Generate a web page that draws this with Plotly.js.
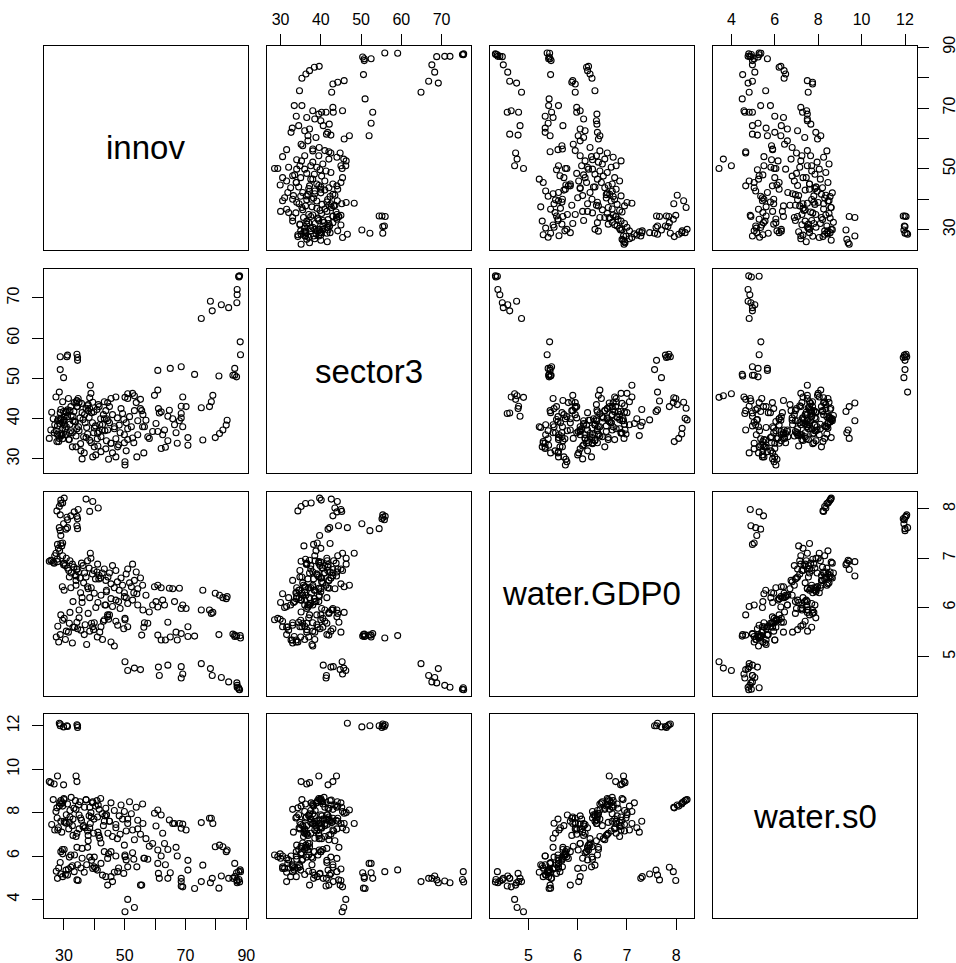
<!DOCTYPE html>
<html><head><meta charset="utf-8">
<script src="https://cdn.plot.ly/plotly-3.0.1.min.js"></script>
<style>html,body{margin:0;padding:0;background:#fff}#chart{width:956px;height:963px}</style>
</head><body><div id="chart"></div>
<script>
// ---- data (one observation per index) ----
const varNames = ['innov', 'sector3', 'water.GDP0', 'water.s0'];

const innov = [
  75.2,78.2,78.8,81.8,84.2,86.9,87.0,87.0,87.5,87.6,87.8,
  50.1,51.0,53.2,55.2,61.1,61.4,64.2,68.6,68.6,69.1,
  81.0,85.6,86.2,86.8,86.2,88.1,88.0,
  60.9,65.0,68.6,73.0,
  28.5,29.9,28.8,28.8,31.0,31.2,34.3,34.5,34.5,
  27.7,28.5,29.0,29.6,30.1,29.0,37.3,39.5,41.3,38.5,
  27.9,29.6,29.0,30.7,31.2,34.3,32.3,33.4,34.7,
  25.2,25.7,26.8,27.9,29.9,34.0,34.3,
  26.0,26.5,27.0,27.4,27.8,28.2,28.6,29.0,29.3,29.6,30.0,30.4,30.8,31.2,31.6,32.0,32.4,32.8,33.3,33.8,
  34.3,34.8,35.3,35.8,36.3,36.8,37.3,37.8,38.3,38.7,38.9,39.4,39.9,40.4,40.9,41.1,41.6,42.1,42.6,43.3,
  43.8,44.5,45.0,45.5,46.0,46.6,47.1,47.6,48.2,48.8,49.3,49.9,50.5,51.0,51.6,52.2,52.6,53.2,53.8,54.3,55.2,55.9,36.5,39.0,41.5,34.0,31.8,44.0,
  29.5,30.1,32.3,34.0,35.5,37.8,38.5,40.0,41.2,42.2,43.5,45.5,47.1,48.5,49.9,51.0,52.6,54.3,57.0,56.0,33.0,36.0,44.0,38.0,
  59.8,60.9,62.0,64.7,65.8,66.4,68.0,69.1,68.6,60.3,59.2,60.9,63.1,62.5,70.2,58.1,56.5,57.6,62.0,63.4,67.3,70.8,70.8,66.9,56.3,64.2,
  29.6,30.1,31.8,34.5,35.6,39.1,40.0,42.7,42.2,39.5,44.4,47.7,49.7,51.0,55.6,27.5,28.3,28.8,30.5,31.5,32.8,33.5,36.7,37.5,38.5,41.0,43.3,45.5,46.6,44.4,34.3,29.0,
  75.2,77.9,78.5,79.0,75.7,79.8,81.2,82.3,83.4,83.7,
  40.5,43.8,46.0,48.0,50.5,53.0,54.0,36.0,
  44.7,47.1,50.1,50.1,
  30.8,33.0,35.0,37.0,39.8,41.8,28.0,43.0,45.0,32.0,35.0,38.0
];

const sector3 = [
  64.9,69.2,66.8,68.3,67.6,68.8,70.8,72.1,75.4,75.2,75.5,
  45.3,46.2,45.7,44.8,42.5,41.4,40.6,43.1,41.3,45.4,
  50.6,50.8,50.8,50.4,52.5,55.9,59.1,
  52.0,52.5,52.9,51.0,
  46.6,50.2,52.2,55.4,55.4,55.8,56.0,55.2,54.5,
  34.3,35.1,36.2,37.6,39.7,40.1,42.6,44.1,43.5,45.2,
  38.2,39.1,39.7,41.8,42.2,44.4,43.0,44.0,45.0,
  35.1,37.2,36.5,39.5,41.8,43.9,43.0,
  41.6,40.0,38.5,45.4,36.2,40.0,38.8,42.3,35.8,44.2,39.5,37.5,41.5,40.5,34.8,38.6,40.8,36.5,41.8,39.2,
  37.5,38.0,40.2,43.8,39.8,41.0,35.3,43.2,40.3,48.3,46.3,39.0,41.7,38.2,42.3,36.4,43.0,40.0,37.2,44.2,
  42.0,39.5,43.0,45.0,41.0,37.5,45.4,40.2,38.4,42.5,41.3,36.0,39.0,45.0,40.5,38.0,46.3,42.0,44.0,39.5,42.5,38.0,35.5,34.0,36.8,33.0,34.8,34.5,
  36.0,38.5,37.0,35.7,33.8,36.2,34.6,37.7,33.2,35.5,37.0,33.9,35.0,36.5,34.0,37.5,35.2,36.0,39.6,41.0,39.5,41.5,40.0,43.5,
  45.8,47.1,41.7,42.1,40.0,38.5,39.5,38.0,40.2,38.8,36.8,36.8,37.2,36.0,43.0,35.1,38.0,35.5,32.6,32.9,33.9,35.3,33.4,36.5,31.5,34.5,
  35.0,40.5,36.5,43.0,32.0,41.5,33.0,38.5,31.8,30.5,44.0,33.0,39.8,34.8,42.0,37.0,34.3,41.5,36.0,45.0,33.0,39.3,31.5,37.8,42.5,35.0,40.0,33.9,38.0,37.2,44.5,40.0,
  42.7,43.0,44.2,45.8,34.7,35.3,36.3,37.2,38.4,39.6,
  31.0,32.5,31.5,33.5,32.0,34.0,30.5,30.0,
  29.9,30.5,29.3,28.5,
  38.0,40.5,37.0,39.0,36.5,38.5,36.0,41.0,39.0,42.0,44.0,42.0
];

const waterGDP0 = [
  4.86,4.76,4.62,4.58,4.49,4.47,4.42,4.38,4.37,4.34,4.33,
  4.90,4.72,4.77,4.74,4.79,4.62,4.83,4.80,4.57,4.65,
  5.45,5.46,5.41,5.42,5.44,5.38,5.43,
  5.44,5.40,5.47,5.42,
  7.62,7.70,7.56,7.88,7.83,7.78,7.85,7.80,7.60,
  7.96,8.05,8.11,8.12,8.22,8.18,8.20,8.15,8.02,7.95,
  7.28,7.31,7.46,7.59,7.62,7.66,7.86,7.94,7.99,
  6.94,6.96,6.90,6.93,6.87,6.64,6.77,
  6.95,6.92,7.05,7.10,6.98,7.20,7.15,7.30,7.25,7.05,6.90,6.85,7.00,6.80,6.75,6.95,6.70,6.88,6.82,6.65,
  6.78,6.72,6.60,6.90,6.85,6.70,6.62,6.95,6.80,7.10,7.00,6.68,6.75,6.58,6.72,6.88,6.65,6.60,6.70,6.78,
  6.55,6.62,6.70,6.48,6.85,6.40,6.75,6.52,6.35,6.60,6.45,6.30,6.68,6.78,6.50,6.42,6.88,6.55,6.72,6.38,6.60,6.45,6.50,6.40,6.58,6.55,6.62,6.35,
  6.42,6.35,6.40,6.45,6.30,6.42,6.20,6.29,6.10,6.25,6.05,6.18,6.15,5.98,6.22,6.08,6.15,6.05,6.25,5.95,6.12,6.20,6.32,6.38,
  6.42,6.45,6.40,6.39,6.38,6.12,6.39,6.05,5.98,6.12,6.05,6.01,6.05,6.15,5.98,5.91,5.69,5.68,5.34,5.34,5.34,5.61,5.41,5.50,5.60,5.70,
  5.74,5.78,5.68,5.57,5.54,5.68,5.69,5.35,5.61,5.61,5.81,5.64,5.57,5.61,5.44,5.40,5.30,5.45,5.35,5.50,5.28,5.60,5.45,5.25,5.52,5.40,5.75,5.30,5.22,5.85,5.70,5.85,
  5.95,5.95,5.88,5.90,6.35,6.29,6.25,6.20,6.18,6.22,
  6.00,6.05,6.02,6.12,6.20,6.30,6.28,6.10,
  5.76,5.72,5.78,5.75,
  5.52,5.60,5.79,5.65,5.55,5.50,5.62,5.72,5.85,5.90,5.95,5.88
];

const waterS0 = [
  4.82,4.77,4.97,5.08,4.97,4.90,4.85,4.77,5.28,4.92,4.80,
  3.43,4.00,3.63,4.66,5.20,4.97,4.97,4.82,4.62,4.58,
  4.52,4.97,5.05,5.23,5.66,5.28,5.36,
  5.66,5.23,4.97,4.50,
  12.12,11.95,12.00,12.08,12.00,11.97,12.05,11.92,12.00,
  8.22,8.30,8.40,8.45,8.60,8.55,8.58,8.50,8.35,8.25,
  4.97,5.05,5.17,5.35,5.12,4.90,5.48,5.28,4.87,
  9.43,9.38,9.32,9.69,9.28,9.69,9.43,
  7.45,8.60,7.20,8.05,7.75,7.30,8.45,7.60,7.10,8.30,8.65,7.55,7.90,8.40,7.25,8.10,8.70,7.40,8.20,8.55,
  7.05,8.35,8.50,7.65,7.35,8.25,8.60,7.15,7.85,7.50,8.00,8.45,7.70,8.30,8.55,7.80,8.15,8.65,7.95,7.60,
  8.20,7.05,7.60,8.45,6.90,8.10,7.30,6.80,7.85,8.35,7.70,8.05,7.15,7.50,8.50,7.95,7.20,6.75,8.25,7.65,7.00,8.40,7.40,7.80,6.95,8.15,7.55,7.90,
  6.30,7.60,6.05,6.90,7.75,6.40,7.30,5.95,7.10,6.60,7.85,6.20,7.45,7.00,6.50,7.70,6.15,7.25,6.80,7.50,6.95,6.35,7.90,6.70,
  7.97,8.12,7.89,7.66,7.50,7.50,7.50,7.47,7.28,7.38,6.58,6.28,6.58,7.05,7.20,6.45,5.90,5.85,6.00,5.60,6.00,5.80,5.35,6.40,5.90,6.30,
  6.10,6.30,5.95,5.60,5.45,5.80,5.50,5.12,5.66,5.43,5.89,5.28,5.20,5.50,4.66,5.30,5.45,5.70,5.15,5.40,5.55,6.05,5.25,5.60,5.95,5.35,6.20,5.05,5.25,4.66,6.40,6.20,
  7.54,7.74,7.74,7.50,5.58,6.43,6.50,6.43,6.20,6.28,
  5.43,5.05,4.82,5.45,5.82,5.85,5.50,5.90,
  6.10,6.00,5.97,6.05,
  7.51,7.70,7.89,7.30,7.05,6.82,7.20,7.40,7.60,7.80,7.25,6.95
];

// tick marks and labels for each variable
const innovTicks = [30, 40, 50, 60, 70, 80, 90];
const innovTickText = ['30', '', '50', '', '70', '', '90'];
const sector3Ticks = [30, 40, 50, 60, 70];
const sector3TickText = ['30', '40', '50', '60', '70'];
const gdpTicks = [5, 6, 7, 8];
const gdpTickText = ['5', '6', '7', '8'];
const s0Ticks = [4, 6, 8, 10, 12];
const s0TickText = ['4', '6', '8', '10', '12'];

// ---- layout ----
const W = 956, H = 963, SIZE = 204;
const colLeft = [43.5, 266.5, 489.5, 712.5];
const rowTop = [46, 269, 491.7, 714.3];
const ranges = [[23.3, 90.4], [26.5, 77.2], [4.21, 8.35], [3.13, 12.53]];
const vars = [innov, sector3, waterGDP0, waterS0];
const tickSets = [
  [innovTicks, innovTickText], [sector3Ticks, sector3TickText],
  [gdpTicks, gdpTickText], [s0Ticks, s0TickText]
];
const FONT = 'Liberation Sans, Arial, Helvetica, sans-serif';

const n = Math.min(innov.length, sector3.length, waterGDP0.length, waterS0.length);

function baseAxis(domain, range) {
  return {
    domain: domain, range: range, autorange: false,
    showgrid: false, zeroline: false,
    showline: true, mirror: true, linecolor: '#000', linewidth: 1,
    ticks: '', showticklabels: false, fixedrange: true
  };
}
function addTicks(ax, v, side, angle, standoff) {
  Object.assign(ax, {
    ticks: 'outside', ticklen: 11, tickwidth: 1, tickcolor: '#000',
    tickmode: 'array', tickvals: tickSets[v][0], ticktext: tickSets[v][1],
    showticklabels: true, side: side, tickangle: angle,
    ticklabelstandoff: standoff,
    tickfont: {family: FONT, size: 16, color: '#000'}
  });
}

const layout = {
  width: W, height: H,
  margin: {l: 0, r: 0, t: 0, b: 0, pad: 0},
  paper_bgcolor: '#fff', plot_bgcolor: '#fff',
  showlegend: false,
  font: {family: FONT, color: '#000'},
  annotations: []
};
const traces = [];

for (let i = 0; i < 4; i++) {
  for (let j = 0; j < 4; j++) {
    const k = i * 4 + j + 1;
    const xs = k === 1 ? '' : String(k);
    const xd = [colLeft[j] / W, (colLeft[j] + SIZE) / W];
    const yd = [1 - (rowTop[i] + SIZE) / H, 1 - rowTop[i] / H];
    const xa = baseAxis(xd, ranges[j]);
    const ya = baseAxis(yd, ranges[i]);
    xa.anchor = 'y' + xs;
    ya.anchor = 'x' + xs;
    if (i === 3 && (j === 0 || j === 2)) addTicks(xa, j, 'bottom', 0, 11);
    if (i === 0 && (j === 1 || j === 3)) addTicks(xa, j, 'top', 0, 3);
    if (j === 0 && (i === 1 || i === 3)) addTicks(ya, i, 'left', -90, 6);
    if (j === 3 && (i === 0 || i === 2)) addTicks(ya, i, 'right', -90, 7);
    layout['xaxis' + xs] = xa;
    layout['yaxis' + xs] = ya;
    if (i === j) {
      traces.push({type: 'scatter', x: [], y: [], xaxis: 'x' + xs, yaxis: 'y' + xs,
                   mode: 'markers', hoverinfo: 'skip', showlegend: false});
      layout.annotations.push({
        xref: 'paper', yref: 'paper',
        x: (colLeft[j] + SIZE / 2) / W, y: 1 - (rowTop[i] + SIZE / 2) / H,
        xanchor: 'center', yanchor: 'middle', showarrow: false,
        text: varNames[i], font: {family: FONT, size: 33, color: '#000'}
      });
    } else {
      traces.push({
        type: 'scatter', mode: 'markers',
        x: vars[j].slice(0, n), y: vars[i].slice(0, n),
        xaxis: 'x' + xs, yaxis: 'y' + xs,
        marker: {symbol: 'circle-open', size: 6, color: '#000', line: {width: 1.1, color: '#000'}},
        hoverinfo: 'skip', showlegend: false, cliponaxis: false
      });
    }
  }
}

Plotly.newPlot('chart', traces, layout, {staticPlot: true, displayModeBar: false});
</script>
</body></html>
